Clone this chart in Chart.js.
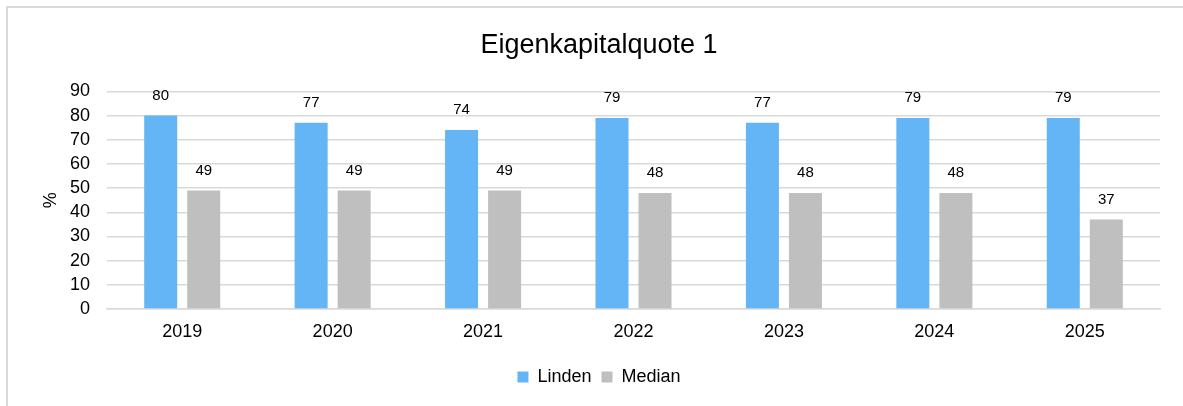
<!DOCTYPE html>
<html lang="de">
<head>
    <meta charset="UTF-8">
    <title>Eigenkapitalquote 1</title>
    <script src="https://cdn.jsdelivr.net/npm/chart.js"></script>
    <style>
        html, body { margin: 0; padding: 0; background: #fff; }
        #wrap { width: 1183px; height: 406px; position: relative; }
    </style>
</head>
<body>
    <div id="wrap"><canvas id="ekChart"></canvas></div>
    <script>
        const years = ['2019', '2020', '2021', '2022', '2023', '2024', '2025'];
        const linden = [80, 77, 74, 79, 77, 79, 79];
        const median = [49, 49, 49, 48, 48, 48, 37];
        const yTicks = [0, 10, 20, 30, 40, 50, 60, 70, 80, 90];

        const FONT = 'Arial, "Liberation Sans", sans-serif';

        // grey frame around the chart (top and left edges visible)
        const framePlugin = {
            id: 'frame',
            beforeDraw(chart) {
                const c = chart.ctx;
                c.save();
                c.strokeStyle = '#d9d9d9';
                c.lineWidth = 2;
                c.strokeRect(7, 7, chart.width + 20, chart.height + 20);
                c.restore();
            }
        };

        // value labels above each bar
        const valueLabels = {
            id: 'valueLabels',
            afterDatasetsDraw(chart) {
                const c = chart.ctx;
                c.save();
                c.font = '15px ' + FONT;
                c.fillStyle = '#000';
                c.textAlign = 'center';
                c.textBaseline = 'middle';
                chart.data.datasets.forEach((ds, i) => {
                    chart.getDatasetMeta(i).data.forEach((bar, j) => {
                        c.fillText(ds.data[j], bar.x, bar.y - 20);
                    });
                });
                c.restore();
            }
        };

        new Chart(document.getElementById('ekChart'), {
            type: 'bar',
            data: {
                labels: years,
                datasets: [
                    { label: 'Linden', data: linden, backgroundColor: '#64b5f6' },
                    { label: 'Median', data: median, backgroundColor: '#bfbfbf' }
                ]
            },
            options: {
                responsive: true,
                maintainAspectRatio: false,
                animation: false,
                categoryPercentage: 0.572,
                barPercentage: 0.767,
                layout: { padding: { left: 38, right: 23, top: 0, bottom: 10 } },
                plugins: {
                    title: {
                        display: true,
                        text: 'Eigenkapitalquote 1',
                        color: '#000',
                        font: { family: FONT, size: 27, weight: 'normal' },
                        padding: { top: 29, bottom: 30 }
                    },
                    legend: {
                        position: 'bottom',
                        labels: {
                            color: '#000',
                            font: { family: FONT, size: 18 },
                            boxWidth: 11,
                            boxHeight: 11,
                            padding: 10
                        }
                    },
                    tooltip: { enabled: false }
                },
                scales: {
                    x: {
                        grid: { display: false },
                        border: { color: '#d9d9d9', width: 1.5 },
                        ticks: { color: '#000', font: { family: FONT, size: 18 }, padding: 4 },
                        afterFit(s) { s.height = 49; }
                    },
                    y: {
                        min: 0,
                        max: 90,
                        afterBuildTicks(s) { s.ticks = yTicks.map(v => ({ value: v })); },
                        grid: { color: '#d9d9d9', lineWidth: 1.5, drawTicks: false },
                        border: { display: false },
                        ticks: { color: '#000', font: { family: FONT, size: 18 }, padding: 17, autoSkip: false },
                        title: {
                            display: true,
                            text: '%',
                            color: '#000',
                            font: { family: FONT, size: 18 },
                            padding: { top: 2, bottom: 0 }
                        },
                        afterFit(s) { s.width = 69; }
                    }
                }
            },
            plugins: [framePlugin, valueLabels]
        });
    </script>
</body>
</html>
